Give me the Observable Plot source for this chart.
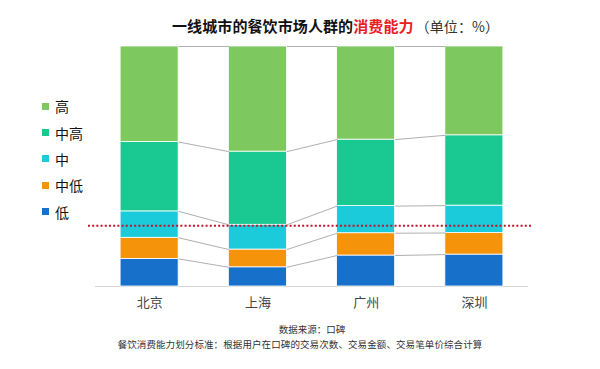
<!DOCTYPE html>
<html>
<head>
<meta charset="utf-8">
<script src="https://cdn.jsdelivr.net/npm/d3@7"></script>
<script src="https://cdn.jsdelivr.net/npm/@observablehq/plot@0.6"></script>
<style>
  html, body { margin: 0; padding: 0; background: #fff; }
  body { width: 600px; height: 369px; overflow: hidden; font-family: "Noto Sans CJK SC", "Noto Sans", sans-serif; }
  #wrap { position: relative; width: 600px; height: 369px; }
  #chart { position: absolute; left: 0; top: 0; }
  .abs { position: absolute; white-space: nowrap; }
  #title { left: 172px; top: 16px; font-size: 15px; font-weight: bold; color: #111; line-height: 20px; letter-spacing: 0.1px; }
  #title .red { color: #e8201f; }
  #title .unit { font-weight: normal; color: #333; font-size: 14px; margin-left: 2px; }
  #legend { left: 42px; top: 93px; }
  .item { height: 26.4px; display: flex; align-items: center; font-size: 14px; color: #111; line-height: 20px; }
  .sw { width: 7px; height: 7px; margin-right: 6px; }
  #foot1 { left: 0; width: 624px; text-align: center; top: 323px; font-size: 9.5px; color: #333; line-height: 12px; }
  #foot2 { left: 0; width: 600px; text-align: center; top: 338px; font-size: 9.5px; color: #333; line-height: 12px; letter-spacing: 0.1px; }
</style>
</head>
<body>
<div id="wrap">
  <div id="chart"></div>
  <div id="title" class="abs">一线城市的餐饮市场人群的<span class="red">消费能力</span><span class="unit">（单位：%）</span></div>
  <div id="legend" class="abs"></div>
  <div id="foot1" class="abs">数据来源：口碑</div>
  <div id="foot2" class="abs">餐饮消费能力划分标准：根据用户在口碑的交易次数、交易金额、交易笔单价综合计算</div>
</div>
<script>
// ---- data ----
const cities = ["北京", "上海", "广州", "深圳"];
const levels = ["低", "中低", "中", "中高", "高"];            // bottom -> top
const levelColors = ["#1770c9", "#f5930a", "#1ccbd9", "#19c991", "#7ec95f"];
const low     = [11.5, 8.0, 12.9, 13.3];
const midLow  = [8.8, 7.4, 9.3, 9.0];
const mid     = [11.0, 10.3, 11.3, 11.4];
const midHigh = [28.9, 30.5, 27.7, 29.3];
const high    = [39.8, 43.8, 38.8, 37.0];
const refLevel = 25.3; // red dotted reference line (%)

// ---- derived tables ----
const series = [low, midLow, mid, midHigh, high];
const halfW = 0.268; // half bar width in category units
const rects = [];
const cum = cities.map(() => [0]);
cities.forEach((c, i) => {
  let acc = 0;
  series.forEach((s, k) => {
    rects.push({city: c, i, level: levels[k], y1: acc, y2: acc + s[i]});
    acc += s[i];
    cum[i].push(acc);
  });
});
const links = [];
for (let i = 0; i < cities.length - 1; i++) {
  for (let k = 1; k <= levels.length; k++) {
    links.push({x1: i + halfW, x2: i + 1 - halfW, y1: cum[i][k], y2: cum[i + 1][k]});
  }
}

const chart = Plot.plot({
  width: 600,
  height: 369,
  marginTop: 46,
  marginBottom: 83,
  marginLeft: 95,
  marginRight: 72,
  style: {fontFamily: "'Noto Sans CJK SC', sans-serif", background: "transparent"},
  x: {domain: [-0.5, cities.length - 0.5], axis: null},
  y: {domain: [0, 100], axis: null},
  color: {domain: levels, range: levelColors},
  marks: [
    Plot.ruleY([0], {x1: -0.5, x2: cities.length - 0.5, stroke: "#d6d6d6", strokeWidth: 1.2}),
    Plot.rect(rects, {x1: d => d.i - halfW, x2: d => d.i + halfW, y1: "y1", y2: "y2", fill: "level", stroke: "#fff", strokeWidth: 0.8}),
    Plot.link(links, {x1: "x1", x2: "x2", y1: "y1", y2: "y2", stroke: "#9a9a9a", strokeWidth: 0.8}),
    Plot.ruleY([refLevel], {x1: -0.565, x2: cities.length - 0.46, stroke: "#c0142a", strokeWidth: 2, strokeDasharray: "2,2.2"}),
    Plot.axisX(cities.map((c, i) => i), {tickFormat: i => cities[i], tickSize: 0, tickPadding: 11, fontSize: 13, fill: "#444"})
  ]
});
document.getElementById("chart").appendChild(chart);

// legend (top -> bottom: 高 ... 低)
const legend = document.getElementById("legend");
levels.slice().reverse().forEach((lv) => {
  const k = levels.indexOf(lv);
  const item = document.createElement("div");
  item.className = "item";
  const sw = document.createElement("span");
  sw.className = "sw";
  sw.style.background = levelColors[k];
  const t = document.createElement("span");
  t.textContent = lv;
  item.appendChild(sw);
  item.appendChild(t);
  legend.appendChild(item);
});
</script>
</body>
</html>
